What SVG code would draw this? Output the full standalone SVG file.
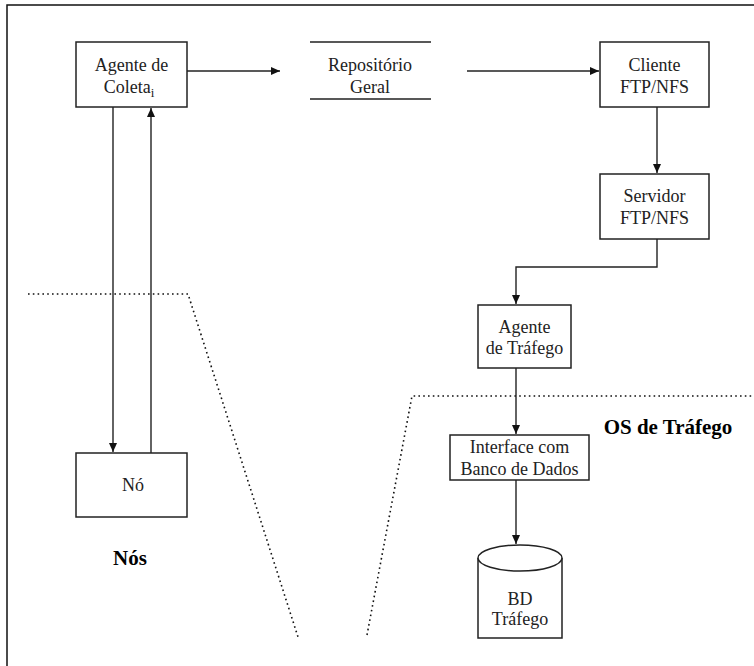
<svg xmlns="http://www.w3.org/2000/svg" width="754" height="666" viewBox="0 0 754 666">
<defs>
<marker id="ah" markerWidth="10" markerHeight="8" refX="9" refY="4" orient="auto" markerUnits="userSpaceOnUse">
<path d="M0,0 L9,4 L0,8 Z" fill="#111"/>
</marker>
<style>
.box{fill:#fff;stroke:#222;stroke-width:1.5}
.ln{fill:none;stroke:#222;stroke-width:1.4}
.dot{fill:none;stroke:#111;stroke-width:1.6;stroke-dasharray:1.6 3.2}
.t{font-family:'Liberation Serif','DejaVu Serif',serif;font-size:18px;fill:#222;text-anchor:middle}
.b{font-family:'Liberation Serif','DejaVu Serif',serif;font-size:21px;font-weight:bold;fill:#000;text-anchor:middle}
</style>
</defs>
<rect width="754" height="666" fill="#fff"/>
<path d="M7,666 V5 H754" fill="none" stroke="#111" stroke-width="1.5"/>
<g id="boundaries">
<path class="dot" d="M28,294 H188 L298,637"/>
<path class="dot" d="M367,635 L412,396 H754"/>
</g>
<g id="connectors">
<path class="ln" d="M187,71 H280" marker-end="url(#ah)"/>
<path class="ln" d="M467,71 H599" marker-end="url(#ah)"/>
<path class="ln" d="M657,107 V173" marker-end="url(#ah)"/>
<path class="ln" d="M657,239 V267 H516 V304" marker-end="url(#ah)"/>
<path class="ln" d="M516,368 V434" marker-end="url(#ah)"/>
<path class="ln" d="M516,480 V544" marker-end="url(#ah)"/>
<path class="ln" d="M113,107 V452" marker-end="url(#ah)"/>
<path class="ln" d="M151,453 V108" marker-end="url(#ah)"/>
</g>
<g id="agente-coleta">
<rect class="box" x="76" y="42" width="111" height="65"/>
<text class="t" x="131.5" y="71">Agente de</text>
<text class="t" x="129" y="93">Coleta<tspan font-size="13" dy="4">i</tspan></text>
</g>
<g id="repositorio">
<path class="ln" d="M310,42 H431 M310,99 H431"/>
<text class="t" x="370" y="71">Repositório</text>
<text class="t" x="370" y="93">Geral</text>
</g>
<g id="cliente">
<rect class="box" x="600" y="42" width="109" height="65"/>
<text class="t" x="654.5" y="71">Cliente</text>
<text class="t" x="654.5" y="93">FTP/NFS</text>
</g>
<g id="servidor">
<rect class="box" x="600" y="174" width="109" height="65"/>
<text class="t" x="654.5" y="202">Servidor</text>
<text class="t" x="654.5" y="224">FTP/NFS</text>
</g>
<g id="agente-trafego">
<rect class="box" x="478" y="305" width="93" height="63"/>
<text class="t" x="524.5" y="333">Agente</text>
<text class="t" x="524.5" y="354">de Tráfego</text>
</g>
<g id="interface">
<rect class="box" x="450" y="435" width="139" height="45"/>
<text class="t" x="519.5" y="453">Interface com</text>
<text class="t" x="519.5" y="475">Banco de Dados</text>
</g>
<g id="bd-trafego">
<path class="box" d="M478,558 V638 H562 V558"/>
<ellipse class="box" cx="520" cy="558" rx="42" ry="13"/>
<text class="t" x="520" y="605">BD</text>
<text class="t" x="520" y="625">Tráfego</text>
</g>
<g id="no">
<rect class="box" x="76" y="453" width="111" height="64"/>
<text class="t" x="133" y="491">Nó</text>
</g>
<g id="labels">
<text class="b" x="130" y="565">Nós</text>
<text class="b" x="668" y="434">OS de Tráfego</text>
</g>
</svg>
